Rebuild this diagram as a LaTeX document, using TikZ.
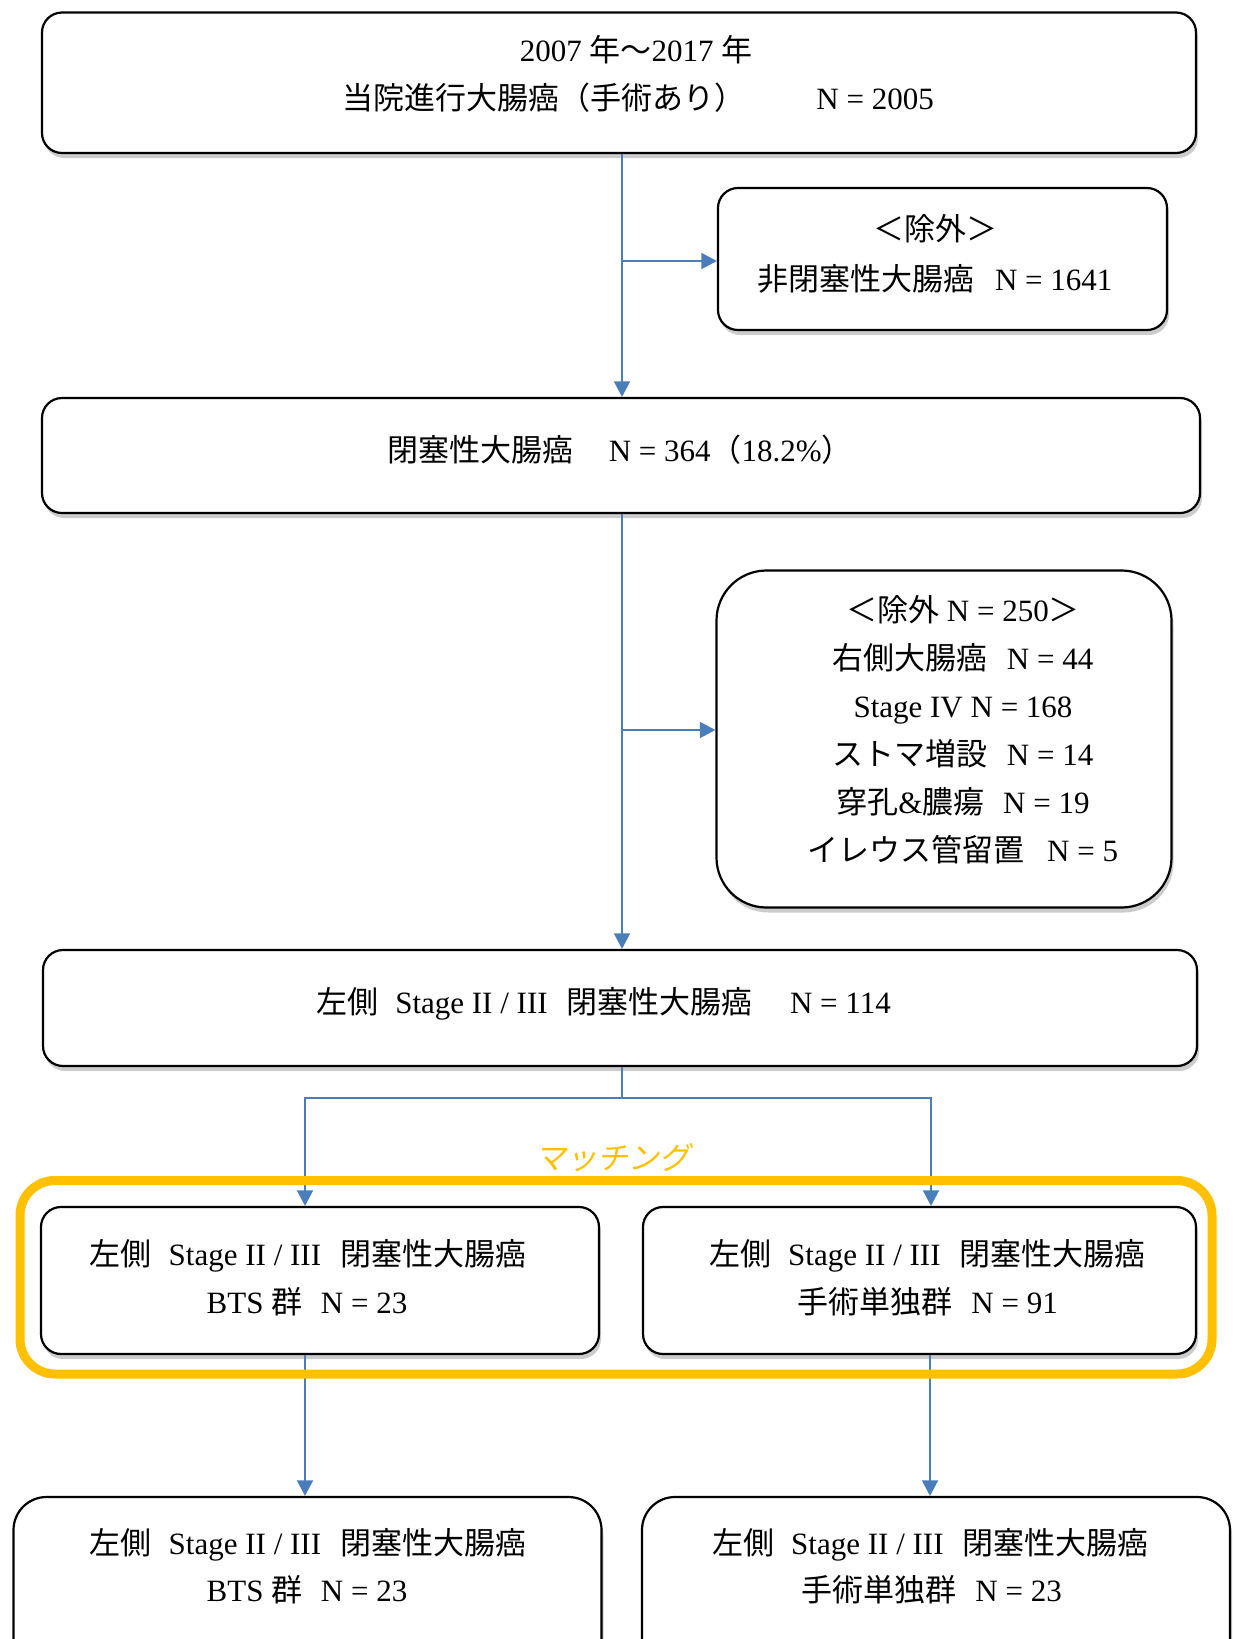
\documentclass[tikz,border=0pt]{standalone}
\usepackage{fontspec}
\setmainfont{Liberation Serif}
\newfontfamily\cjk{Noto Sans CJK JP}
\newfontfamily\cjksl[FakeSlant=0.2]{Noto Sans CJK JP}
\usetikzlibrary{arrows.meta,shadows}
\definecolor{ablue}{HTML}{4A7EBB}
\definecolor{mgold}{HTML}{FFC000}
\newcommand\jp[1]{{\cjk #1}}
\newcommand\zs[1][0.7em]{\hspace{#1}}
\newcommand\fs{\fontsize{15.5pt}{24pt}\selectfont}
\begin{document}
\begin{tikzpicture}[x=0.5pt,y=-0.5pt,
  box/.style={draw=black, line width=1.1pt, fill=white, inner sep=0pt,
    drop shadow={shadow xshift=1pt, shadow yshift=-2.5pt, fill=black, opacity=0.2}},
  txt/.style={inner sep=0pt, anchor=base, font=\fs},
  ln/.style={draw=ablue, line width=1pt},
  arr/.style={ln, -{Triangle[length=7.8pt,width=8pt]}},
  frame/.style={draw=mgold, line width=4.5pt, rounded corners=17.5pt, inner sep=0pt}
]
\useasboundingbox (0,0) rectangle (1232,1639);
\clip (0,0) rectangle (1232,1639);

% boxes
\node[box, rounded corners=10pt, minimum width=577pt, minimum height=70.25pt] (b1) at (619,82.75) {};
\node[box, rounded corners=10pt, minimum width=224.5pt, minimum height=71pt] (b2) at (942.5,259) {};
\node[box, rounded corners=10pt, minimum width=579pt, minimum height=57.5pt] (b3) at (621,455.5) {};
\node[box, rounded corners=25pt, minimum width=227.5pt, minimum height=168.5pt] (b4) at (944,739) {};
\node[box, rounded corners=10pt, minimum width=577pt, minimum height=58pt] (b5) at (620,1008) {};
\node[box, rounded corners=10pt, minimum width=279pt, minimum height=73.5pt] (b6) at (320,1280.5) {};
\node[box, rounded corners=10pt, minimum width=276.5pt, minimum height=73.5pt] (b7) at (919.5,1280.5) {};
\node[box, rounded corners=16.5pt, minimum width=294pt, minimum height=101.5pt] (b8) at (307.5,1598.5) {};
\node[box, rounded corners=16.5pt, minimum width=294pt, minimum height=101.5pt] (b9) at (936,1598.5) {};

% texts
\node[txt] (t1a) at (636,61) {2007 \jp{年〜}2017 \jp{年}};
\node[txt] (t1b) at (638,109) {\jp{当院進行大腸癌（手術あり）}\zs[2.3em]N = 2005};
\node[txt] (t2a) at (935,240) {\jp{＜除外＞}};
\node[txt] (t2b) at (935,290) {\jp{非閉塞性大腸癌}\zs[0.66em]N = 1641};
\node[txt] (t3) at (620,461) {\jp{閉塞性大腸癌}\zs[1.15em]N = 364\jp{（}18.2\%\jp{）}};
\node[txt] (t4a) at (963,621) {\jp{＜除外} N = 250\jp{＞}};
\node[txt] (t4b) at (963,669) {\jp{右側大腸癌}\zs[0.62em]N = 44};
\node[txt] (t4c) at (963,717) {Stage IV N = 168};
\node[txt] (t4d) at (963,765) {\jp{ストマ増設}\zs[0.62em]N = 14};
\node[txt] (t4e) at (963,813.5) {\jp{穿孔}\&\jp{膿瘍}\zs[0.6em]N = 19};
\node[txt] (t4f) at (963,861.5) {\jp{イレウス管留置}\zs[0.72em]N = 5};
\node[txt] (t5) at (603.5,1013) {\jp{左側}\zs[0.55em]Stage II / III\zs[0.62em]\jp{閉塞性大腸癌}\zs[1.2em]N = 114};
\node[txt] (t6a) at (308,1265) {\jp{左側}\zs[0.55em]Stage II / III\zs[0.62em]\jp{閉塞性大腸癌}};
\node[txt] (t6b) at (307,1313) {BTS \jp{群}\zs[0.6em]N = 23};
\node[txt] (t7a) at (927.5,1265) {\jp{左側}\zs[0.55em]Stage II / III\zs[0.62em]\jp{閉塞性大腸癌}};
\node[txt] (t7b) at (927.5,1313) {\jp{手術単独群}\zs[0.62em]N = 91};
\node[txt] (t8a) at (308,1554) {\jp{左側}\zs[0.55em]Stage II / III\zs[0.62em]\jp{閉塞性大腸癌}};
\node[txt] (t8b) at (307,1601.5) {BTS \jp{群}\zs[0.6em]N = 23};
\node[txt] (t9a) at (930.5,1554) {\jp{左側}\zs[0.55em]Stage II / III\zs[0.62em]\jp{閉塞性大腸癌}};
\node[txt] (t9b) at (931.5,1601.5) {\jp{手術単独群}\zs[0.62em]N = 23};

% connectors
\coordinate (t) at (622,0);
\coordinate (j1) at (622,261);
\coordinate (j2) at (622,730);
\coordinate (L) at (305,1098);
\coordinate (R) at (931,1098);
\draw[arr] (b1.south -| t) -- (b3.north -| t);
\draw[arr] (j1) -- (j1 -| b2.west);
\draw[arr] (b3.south -| t) -- (b5.north -| t);
\draw[arr] (j2) -- (j2 -| b4.west);
\draw[ln] (b5.south -| t) -- (t |- L);
\draw[arr] (t |- L) -- (L) -- (L |- b6.north);
\draw[arr] (t |- R) -- (R) -- (R |- b7.north);
\draw[arr] (b6.south -| L) -- (b8.north -| L);
\draw[arr] ([xshift=-0.5pt]b7.south -| R) -- ([xshift=-0.5pt]b9.north -| R);

% matching frame
\node[frame, minimum width=596pt, minimum height=96.75pt] (m) at (616,1277.25) {};
\node[txt, font=\fs\cjksl, text=mgold] (mt) at (613,1169) {マッチング};
\end{tikzpicture}
\end{document}
